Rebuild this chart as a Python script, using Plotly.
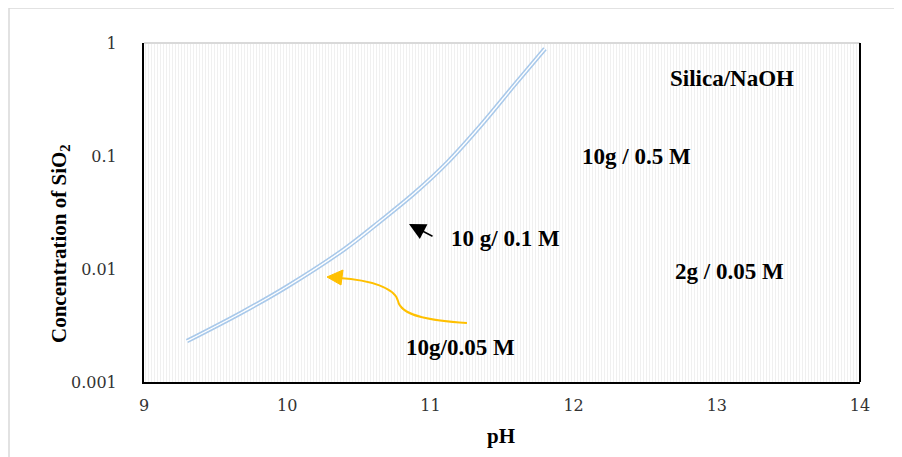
import plotly.graph_objects as go

# ---- data ----
ph = [9.3, 9.68, 10.0, 10.4, 10.65, 10.89, 11.12, 11.35, 11.59, 11.8]
conc = [0.0023, 0.0041, 0.0070, 0.015, 0.0265, 0.047, 0.088, 0.185, 0.43, 0.89]

x_ticks = [9, 10, 11, 12, 13, 14]
y_tickvals = [0.001, 0.01, 0.1, 1]
y_ticktext = ["0.001", "0.01", "0.1", "1"]

labels = ["Silica/NaOH", "10g / 0.5 M", "10 g/ 0.1 M", "2g / 0.05 M", "10g/0.05 M"]

# ---- layout geometry (page pixel coordinates) ----
OX, OY = 7, 7           # page offset of the figure (body margin)
W, H = 902 - OX, 457 - OY
L, R, T, B = 143, 859, 42, 381


def px(x):
    return (x - L) / (R - L)


def py(y):
    return (B - y) / (B - T)


fig = go.Figure()

# striped background
fig.add_trace(go.Scatter(
    x=[9, 14, 14, 9, 9], y=[0.001, 0.001, 1, 1, 0.001],
    mode="none", fill="toself", fillcolor="white",
    fillpattern=dict(shape="|", size=3, solidity=0.33, fgcolor="#e0e0e0", bgcolor="white"),
    hoverinfo="skip", showlegend=False))

# double line curve
fig.add_trace(go.Scatter(x=ph, y=conc, mode="lines",
                         line=dict(color="#a9c9ea", width=4.5, shape="spline", smoothing=1.0),
                         showlegend=False))
fig.add_trace(go.Scatter(x=ph, y=conc, mode="lines",
                         line=dict(color="white", width=1.4, shape="spline", smoothing=1.0),
                         showlegend=False))

ann_font = dict(family="Liberation Serif", size=23, color="black")
text_pos = [(731, 77), (635, 155), (504, 238), (728, 270), (459, 346)]
annotations = []
for t, (x, y) in zip(labels, text_pos):
    annotations.append(dict(x=px(x), y=py(y), xref="paper", yref="paper",
                            text="<b>%s</b>" % t, showarrow=False,
                            font=ann_font, xanchor="center", yanchor="middle"))

# black arrow
annotations.append(dict(x=px(408), y=py(223), xref="paper", yref="paper",
                        ax=25, ay=13, text="", showarrow=True,
                        arrowhead=2, arrowsize=2.2, arrowwidth=1.5, arrowcolor="black"))

# axis titles
annotations.append(dict(x=px(500), y=py(435), xref="paper", yref="paper",
                        text="<b>pH</b>", showarrow=False,
                        xanchor="center", yanchor="middle",
                        font=dict(family="Liberation Serif", size=21, color="black")))
annotations.append(dict(x=px(59), y=py(243), xref="paper", yref="paper",
                        text="<b>Concentration of SiO<sub>2</sub></b>", showarrow=False,
                        textangle=-90, xanchor="center", yanchor="middle",
                        font=dict(family="Liberation Serif", size=21, color="black")))

shapes = []
# yellow curved arrow
p0 = (466, 322); c1 = (430, 320); c2 = (400, 315); p1 = (397, 300)
c3 = (394, 287); c4 = (370, 279); p2 = (338, 277)
d = "M %f,%f C %f,%f %f,%f %f,%f C %f,%f %f,%f %f,%f" % (
    px(p0[0]), py(p0[1]), px(c1[0]), py(c1[1]), px(c2[0]), py(c2[1]), px(p1[0]), py(p1[1]),
    px(c3[0]), py(c3[1]), px(c4[0]), py(c4[1]), px(p2[0]), py(p2[1]))
shapes.append(dict(type="path", path=d, xref="paper", yref="paper",
                   line=dict(color="#FFC000", width=2)))
tri = "M %f,%f L %f,%f L %f,%f Z" % (px(326), py(276), px(342), py(269), px(340), py(284))
shapes.append(dict(type="path", path=tri, xref="paper", yref="paper",
                   fillcolor="#FFC000", line=dict(color="#FFC000", width=1)))

# frame lines
shapes.append(dict(type="line", xref="paper", yref="paper", x0=0, x1=1, y0=1, y1=1,
                   line=dict(color="#d9d9d9", width=2)))
shapes.append(dict(type="line", xref="paper", yref="paper", x0=1, x1=1, y0=0, y1=1,
                   line=dict(color="black", width=2)))
# outer chart border
shapes.append(dict(type="rect", xref="paper", yref="paper",
                   x0=px(8), x1=px(910), y0=py(465), y1=py(7),
                   line=dict(color="#d9d9d9", width=1.5), fillcolor="rgba(0,0,0,0)",
                   layer="below"))

tick_font = dict(family="DejaVu Serif", size=16, color="#333333")

fig.update_layout(
    width=W, height=H,
    margin=dict(l=L - OX, r=W - (R - OX), t=T - OY, b=H - (B - OY), pad=0),
    paper_bgcolor="white", plot_bgcolor="white",
    showlegend=False,
    annotations=annotations, shapes=shapes,
    xaxis=dict(range=[9, 14], tickvals=x_ticks, showgrid=False, zeroline=False,
               showline=True, linecolor="black", linewidth=2, ticks="",
               tickfont=tick_font, ticklabelstandoff=8),
    yaxis=dict(type="log", range=[-3, 0], tickvals=y_tickvals, ticktext=y_ticktext,
               showgrid=False, zeroline=False, showline=True, linecolor="black",
               linewidth=2, ticks="", tickfont=tick_font, ticklabelstandoff=22),
)

fig.write_html("out.html")
